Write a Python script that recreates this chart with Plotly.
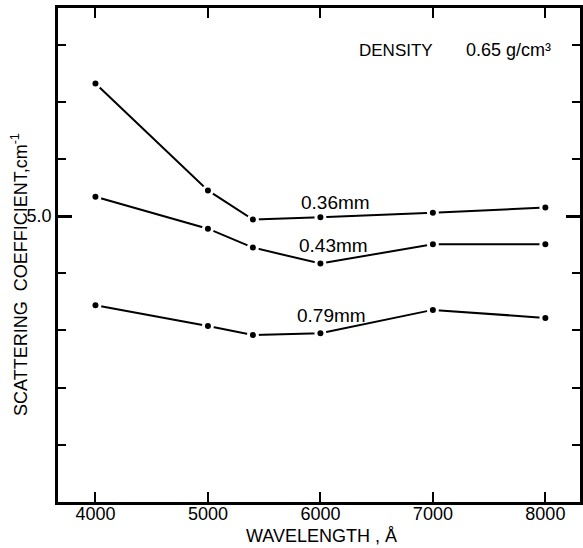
import plotly.graph_objects as go

wavelength = [4000, 5000, 5400, 6000, 7000, 8000]
coef_036 = [7.32, 5.45, 4.94, 4.98, 5.06, 5.15]
coef_043 = [5.34, 4.78, 4.45, 4.17, 4.51, 4.51]
coef_079 = [3.44, 3.08, 2.92, 2.95, 3.36, 3.22]

series_names = ["0.36mm", "0.43mm", "0.79mm"]
series_values = [coef_036, coef_043, coef_079]
label_pos = [(6130, 5.24), (6115, 4.49), (6100, 3.27)]

x_ticks = [4000, 5000, 6000, 7000, 8000]
y_minor_ticks = [0, 1, 2, 3, 4, 5, 6, 7, 8]
y_major_ticks = [5.0]
y_major_text = ["5.0"]

FONT = "Liberation Sans"

fig = go.Figure()
for name, vals in zip(series_names, series_values):
    fig.add_trace(go.Scatter(
        x=wavelength, y=vals, mode="lines+markers", name=name,
        line=dict(color="black", width=2),
        marker=dict(symbol="circle", size=9, color="black",
                    line=dict(color="white", width=3)),
        showlegend=False, hoverinfo="skip",
    ))

annotations = []
for name, (lx, ly) in zip(series_names, label_pos):
    annotations.append(dict(x=lx, y=ly, xref="x", yref="y", text=name,
                            showarrow=False, font=dict(size=19, color="black", family=FONT)))

annotations.append(dict(x=6674, y=7.90, xref="x", yref="y", text="DENSITY",
                        showarrow=False, font=dict(size=17, color="black", family=FONT)))
annotations.append(dict(x=7672, y=7.90, xref="x", yref="y", text="0.65 g/cm³",
                        showarrow=False, font=dict(size=18, color="black", family=FONT)))
annotations.append(dict(x=0, y=3.97, xref="paper", yref="y",
                        text="SCATTERING  COEFFICIENT,cm<sup>-1</sup>", textangle=-90,
                        xanchor="center", yanchor="middle", xshift=-39,
                        showarrow=False, font=dict(size=18, color="black", family=FONT)))
annotations.append(dict(x=0.504, y=0, xref="paper", yref="paper",
                        text="WAVELENGTH , Å", xanchor="center", yanchor="middle",
                        yshift=-34, showarrow=False,
                        font=dict(size=18, color="black", family=FONT)))

fig.update_layout(
    width=583, height=548,
    margin=dict(l=58, r=0, t=8, b=46),
    paper_bgcolor="white", plot_bgcolor="white",
    annotations=annotations,
    font=dict(family=FONT, color="black", size=18),
)
fig.update_xaxes(
    range=[3667, 8308], showgrid=False, zeroline=False,
    showline=True, linecolor="black", linewidth=2.5, mirror="ticks",
    ticks="inside", ticklen=10, tickwidth=2, tickcolor="black",
    tickvals=x_ticks, ticktext=[str(v) for v in x_ticks],
    ticklabelstandoff=-6,
    tickfont=dict(size=18, family=FONT, color="black"),
)
fig.update_yaxes(
    range=[0, 8.64], showgrid=False, zeroline=False,
    showline=True, linecolor="black", linewidth=2.5, mirror="ticks",
    ticks="inside", ticklen=14, tickwidth=3, tickcolor="black",
    tickvals=y_major_ticks, ticktext=y_major_text,
    tickfont=dict(size=18, family=FONT, color="black"),
    minor=dict(tickvals=y_minor_ticks, ticks="inside", ticklen=8, tickwidth=2,
               tickcolor="black", showgrid=False),
)

fig.write_html("out.html")
